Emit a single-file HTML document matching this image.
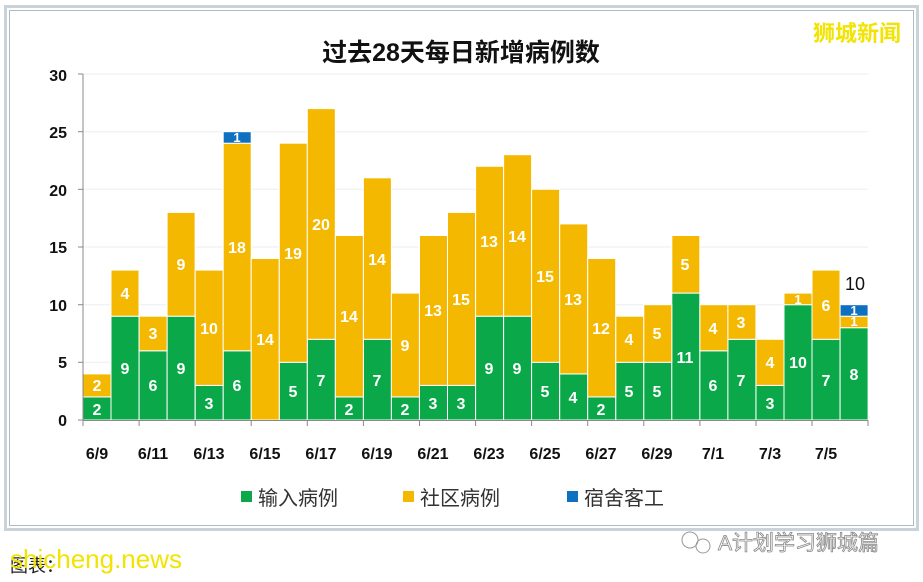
<!DOCTYPE html>
<html><head><meta charset="utf-8"><style>
body{margin:0;background:#fff;}
svg{display:block;}
.b{font-family:"Liberation Sans Narrow","Liberation Sans",sans-serif;font-weight:bold;fill:#fff;font-size:16px;text-anchor:middle;}
.s{font-size:13px;}
.ax{font-family:"Liberation Sans Narrow","Liberation Sans",sans-serif;font-weight:bold;font-size:16px;fill:#111;}
.cj{font-family:"Liberation Sans","Noto Sans CJK SC",sans-serif;}
</style></head><body>
<svg width="923" height="582" viewBox="0 0 923 582" xmlns="http://www.w3.org/2000/svg">
<rect x="0" y="0" width="923" height="582" fill="#fff"/>
<rect x="5.5" y="6.5" width="912" height="523" fill="none" stroke="#c9d3d9" stroke-width="3"/>
<rect x="9.5" y="10.5" width="904" height="515" fill="none" stroke="#aebbc4" stroke-width="1"/>
<text x="461" y="61" class="cj" font-size="25" font-weight="bold" text-anchor="middle" fill="#111">过去28天每日新增病例数</text>
<text x="857" y="41" class="cj" font-size="22" font-weight="bold" text-anchor="middle" fill="#f2e300">狮城新闻</text>
<g stroke="#eeeeee" stroke-width="1">
<line x1="83" y1="74" x2="868" y2="74"/><line x1="83" y1="131.7" x2="868" y2="131.7"/><line x1="83" y1="189.3" x2="868" y2="189.3"/><line x1="83" y1="247" x2="868" y2="247"/><line x1="83" y1="304.7" x2="868" y2="304.7"/><line x1="83" y1="362.3" x2="868" y2="362.3"/>
</g>
<g class="ax" text-anchor="end">
<text x="67" y="81">30</text><text x="67" y="138">25</text><text x="67" y="196">20</text><text x="67" y="253">15</text><text x="67" y="311">10</text><text x="67" y="368">5</text><text x="67" y="426">0</text>
</g>
<g stroke="#fff" stroke-width="1">
<g fill="#0ba84a">
<rect x="83" y="396.9" width="28" height="23.1"/>
<rect x="111" y="316.2" width="28" height="103.8"/>
<rect x="139.1" y="350.8" width="28" height="69.2"/>
<rect x="167.1" y="316.2" width="28" height="103.8"/>
<rect x="195.2" y="385.4" width="28" height="34.6"/>
<rect x="223.2" y="350.8" width="28" height="69.2"/>
<rect x="279.3" y="362.3" width="28" height="57.7"/>
<rect x="307.3" y="339.3" width="28" height="80.7"/>
<rect x="335.4" y="396.9" width="28" height="23.1"/>
<rect x="363.4" y="339.3" width="28" height="80.7"/>
<rect x="391.4" y="396.9" width="28" height="23.1"/>
<rect x="419.5" y="385.4" width="28" height="34.6"/>
<rect x="447.5" y="385.4" width="28" height="34.6"/>
<rect x="475.6" y="316.2" width="28" height="103.8"/>
<rect x="503.6" y="316.2" width="28" height="103.8"/>
<rect x="531.6" y="362.3" width="28" height="57.7"/>
<rect x="559.7" y="373.9" width="28" height="46.1"/>
<rect x="587.7" y="396.9" width="28" height="23.1"/>
<rect x="615.8" y="362.3" width="28" height="57.7"/>
<rect x="643.8" y="362.3" width="28" height="57.7"/>
<rect x="671.8" y="293.1" width="28" height="126.9"/>
<rect x="699.9" y="350.8" width="28" height="69.2"/>
<rect x="727.9" y="339.3" width="28" height="80.7"/>
<rect x="756" y="385.4" width="28" height="34.6"/>
<rect x="784" y="304.7" width="28" height="115.3"/>
<rect x="812" y="339.3" width="28" height="80.7"/>
<rect x="840.1" y="327.7" width="28" height="92.3"/>
</g>
<g fill="#f5b800">
<rect x="83" y="373.9" width="28" height="23"/>
<rect x="111" y="270.1" width="28" height="46.1"/>
<rect x="139.1" y="316.2" width="28" height="34.6"/>
<rect x="167.1" y="212.4" width="28" height="103.8"/>
<rect x="195.2" y="270.1" width="28" height="115.3"/>
<rect x="223.2" y="143.2" width="28" height="207.6"/>
<rect x="251.2" y="258.5" width="28" height="161.5"/>
<rect x="279.3" y="143.2" width="28" height="219.1"/>
<rect x="307.3" y="108.6" width="28" height="230.7"/>
<rect x="335.4" y="235.5" width="28" height="161.4"/>
<rect x="363.4" y="177.8" width="28" height="161.5"/>
<rect x="391.4" y="293.1" width="28" height="103.8"/>
<rect x="419.5" y="235.5" width="28" height="149.9"/>
<rect x="447.5" y="212.4" width="28" height="173"/>
<rect x="475.6" y="166.3" width="28" height="149.9"/>
<rect x="503.6" y="154.7" width="28" height="161.5"/>
<rect x="531.6" y="189.3" width="28" height="173"/>
<rect x="559.7" y="223.9" width="28" height="150"/>
<rect x="587.7" y="258.5" width="28" height="138.4"/>
<rect x="615.8" y="316.2" width="28" height="46.1"/>
<rect x="643.8" y="304.7" width="28" height="57.6"/>
<rect x="671.8" y="235.5" width="28" height="57.6"/>
<rect x="699.9" y="304.7" width="28" height="46.1"/>
<rect x="727.9" y="304.7" width="28" height="34.6"/>
<rect x="756" y="339.3" width="28" height="46.1"/>
<rect x="784" y="293.1" width="28" height="11.6"/>
<rect x="812" y="270.1" width="28" height="69.2"/>
<rect x="840.1" y="316.2" width="28" height="11.5"/>
</g>
<g fill="#0e70c0">
<rect x="223.2" y="131.7" width="28" height="11.5"/>
<rect x="840.1" y="304.7" width="28" height="11.5"/>
</g>
</g>
<g class="b">
<text x="97" y="415">2</text><text x="97" y="391">2</text>
<text x="125" y="374">9</text><text x="125" y="299">4</text>
<text x="153" y="391">6</text><text x="153" y="339">3</text>
<text x="181" y="374">9</text><text x="181" y="270">9</text>
<text x="209" y="409">3</text><text x="209" y="334">10</text>
<text x="237" y="391">6</text><text x="237" y="253">18</text><text x="237" y="142" class="b s">1</text>
<text x="265" y="345">14</text>
<text x="293" y="397">5</text><text x="293" y="259">19</text>
<text x="321" y="386">7</text><text x="321" y="230">20</text>
<text x="349" y="415">2</text><text x="349" y="322">14</text>
<text x="377" y="386">7</text><text x="377" y="265">14</text>
<text x="405" y="415">2</text><text x="405" y="351">9</text>
<text x="433" y="409">3</text><text x="433" y="316">13</text>
<text x="461" y="409">3</text><text x="461" y="305">15</text>
<text x="489" y="374">9</text><text x="489" y="247">13</text>
<text x="517" y="374">9</text><text x="517" y="242">14</text>
<text x="545" y="397">5</text><text x="545" y="282">15</text>
<text x="573" y="403">4</text><text x="573" y="305">13</text>
<text x="601" y="415">2</text><text x="601" y="334">12</text>
<text x="629" y="397">5</text><text x="629" y="345">4</text>
<text x="657" y="397">5</text><text x="657" y="339">5</text>
<text x="685" y="363">11</text><text x="685" y="270">5</text>
<text x="713" y="391">6</text><text x="713" y="334">4</text>
<text x="741" y="386">7</text><text x="741" y="328">3</text>
<text x="770" y="409">3</text><text x="770" y="368">4</text>
<text x="798" y="368">10</text><text x="798" y="304" class="b s">1</text>
<text x="826" y="386">7</text><text x="826" y="311">6</text>
<text x="854" y="380">8</text><text x="854" y="326" class="b s">1</text><text x="854" y="315" class="b s">1</text>
</g>
<text x="855" y="290" font-family="Liberation Sans,sans-serif" font-size="18" text-anchor="middle" fill="#111">10</text>
<g stroke="#888" stroke-width="1">
<line x1="83" y1="74" x2="83" y2="426"/>
<line x1="83" y1="420.5" x2="868" y2="420.5"/>
<line x1="78" y1="74" x2="83" y2="74"/><line x1="78" y1="131.7" x2="83" y2="131.7"/><line x1="78" y1="189.3" x2="83" y2="189.3"/><line x1="78" y1="247" x2="83" y2="247"/><line x1="78" y1="304.7" x2="83" y2="304.7"/><line x1="78" y1="362.3" x2="83" y2="362.3"/><line x1="78" y1="420" x2="83" y2="420"/>
<line x1="139.1" y1="420" x2="139.1" y2="426"/><line x1="195.2" y1="420" x2="195.2" y2="426"/><line x1="251.2" y1="420" x2="251.2" y2="426"/><line x1="307.3" y1="420" x2="307.3" y2="426"/><line x1="363.4" y1="420" x2="363.4" y2="426"/><line x1="419.5" y1="420" x2="419.5" y2="426"/><line x1="475.6" y1="420" x2="475.6" y2="426"/><line x1="531.6" y1="420" x2="531.6" y2="426"/><line x1="587.7" y1="420" x2="587.7" y2="426"/><line x1="643.8" y1="420" x2="643.8" y2="426"/><line x1="699.9" y1="420" x2="699.9" y2="426"/><line x1="756" y1="420" x2="756" y2="426"/><line x1="812" y1="420" x2="812" y2="426"/><line x1="868" y1="420" x2="868" y2="426"/>
</g>
<g class="ax" text-anchor="middle">
<text x="97" y="459">6/9</text><text x="153" y="459">6/11</text><text x="209" y="459">6/13</text><text x="265" y="459">6/15</text><text x="321" y="459">6/17</text><text x="377" y="459">6/19</text><text x="433" y="459">6/21</text><text x="489" y="459">6/23</text><text x="545" y="459">6/25</text><text x="601" y="459">6/27</text><text x="657" y="459">6/29</text><text x="713" y="459">7/1</text><text x="770" y="459">7/3</text><text x="826" y="459">7/5</text>
</g>
<rect x="241" y="491" width="11" height="11" fill="#0ba84a"/>
<text x="258" y="505" class="cj" font-size="20" fill="#333">输入病例</text>
<rect x="403" y="491" width="11" height="11" fill="#f5b800"/>
<text x="420" y="505" class="cj" font-size="20" fill="#333">社区病例</text>
<rect x="567" y="491" width="11" height="11" fill="#0e70c0"/>
<text x="584" y="505" class="cj" font-size="20" fill="#333">宿舍客工</text>
<text x="10" y="572" class="cj" font-size="18" fill="#222">图表：</text>
<text x="10" y="568" font-family="Liberation Sans,sans-serif" font-size="26" fill="#f2e300">shicheng.news</text>
<text x="718" y="550" class="cj" font-size="21" fill="#fff" stroke="#888" stroke-width="0.8">A计划学习狮城篇</text>
<circle cx="690" cy="540" r="8" fill="none" stroke="#999"/>
<circle cx="703" cy="546" r="7" fill="none" stroke="#999"/>
</svg>
</body></html>
